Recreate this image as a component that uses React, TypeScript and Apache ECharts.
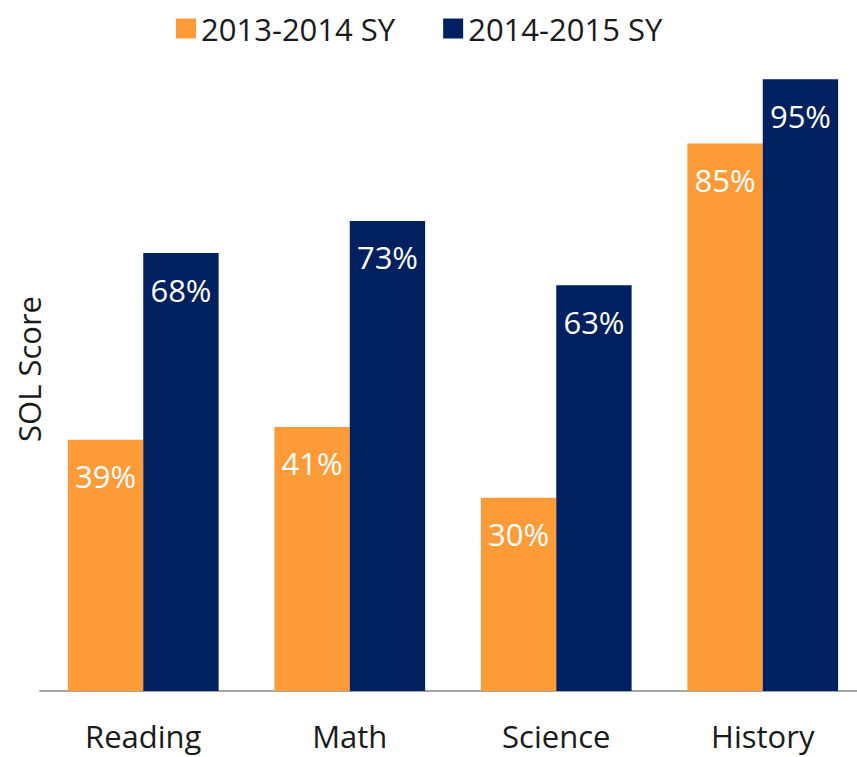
import React, { useEffect, useRef } from "react";
import * as echarts from "echarts";

const categories = ["Reading", "Math", "Science", "History"];
const seriesNames = ["2013-2014 SY", "2014-2015 SY"];
const values2013 = [39, 41, 30, 85];
const values2014 = [68, 73, 63, 95];
const colors = ["#FD9B38", "#002060"];

const FONT = "'Open Sans', 'Noto Sans', sans-serif";

export default function App() {
  const ref = useRef<HTMLDivElement>(null);
  useEffect(() => {
    if (!ref.current) return;
    const chart = echarts.init(ref.current, undefined, { renderer: "svg" });
    const label = {
      show: true,
      position: "insideTop",
      distance: 21,
      color: "#ffffff",
      fontSize: 31,
      lineHeight: 31,
      fontFamily: FONT,
      formatter: (p: any) => p.value + "%",
    };
    chart.setOption({
      animation: false,
      backgroundColor: "#ffffff",
      legend: {
        top: 8,
        left: 171,
        itemWidth: 20,
        itemHeight: 20,
        itemGap: 48,
        icon: "rect",
        textStyle: { fontSize: 31, lineHeight: 31, color: "#1a1a1a", fontFamily: FONT, padding: [0, 0, 0, 0] },
        data: seriesNames,
      },
      grid: { left: 40, right: 0, top: 47, bottom: 66 },
      xAxis: {
        type: "category",
        data: categories,
        axisLine: { show: true, lineStyle: { color: "#A6A6A6", width: 2 } },
        axisTick: { show: false },
        axisLabel: { margin: 29, fontSize: 31, lineHeight: 31, color: "#1a1a1a", fontFamily: FONT },
      },
      yAxis: {
        type: "value",
        min: 0,
        max: 100,
        name: "SOL Score",
        nameLocation: "middle",
        nameGap: -4,
        nameTextStyle: { fontSize: 31, color: "#1a1a1a", fontFamily: FONT },
        axisLine: { show: false },
        axisTick: { show: false },
        axisLabel: { show: false },
        splitLine: { show: false },
      },
      series: [
        {
          name: seriesNames[0],
          type: "bar",
          data: values2013,
          itemStyle: { color: colors[0] },
          barGap: "0%",
          barCategoryGap: "27%",
          label,
        },
        {
          name: seriesNames[1],
          type: "bar",
          data: values2014,
          itemStyle: { color: colors[1] },
          barGap: "0%",
          barCategoryGap: "27%",
          label,
        },
      ],
    });
    return () => chart.dispose();
  }, []);
  return (
    <div style={{ position: "fixed", left: 0, top: 0, width: 857, height: 757, overflow: "hidden", background: "#fff" }}>
      <div ref={ref} style={{ width: 866, height: 757 }} />
    </div>
  );
}
